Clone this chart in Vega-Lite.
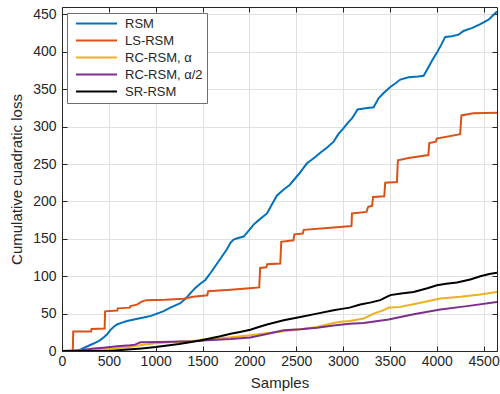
{
  "$schema": "https://vega.github.io/schema/vega-lite/v6.json",
  "width": 435,
  "height": 344,
  "autosize": {"type": "none"},
  "padding": {"left": 62, "top": 7, "right": 3, "bottom": 43},
  "background": "white",
  "config": {
    "view": {"stroke": null},
    "font": "Liberation Sans",
    "axis": {
      "domainColor": "#262626",
      "domainWidth": 1,
      "tickColor": "#262626",
      "tickWidth": 1,
      "tickSize": -5,
      "labelColor": "#262626",
      "labelFont": "Liberation Sans",
      "labelFontSize": 14,
      "titleColor": "#262626",
      "titleFont": "Liberation Sans",
      "titleFontSize": 15,
      "titleFontWeight": "normal",
      "gridColor": "#e0e0e0",
      "gridWidth": 1
    },
    "legend": {
      "labelFont": "Liberation Sans",
      "labelFontSize": 13,
      "labelColor": "#262626"
    }
  },
  "data": {
    "values": [
      {"method": "RSM", "samples": 0, "loss": 0},
      {"method": "RSM", "samples": 150, "loss": 0},
      {"method": "RSM", "samples": 200, "loss": 2},
      {"method": "RSM", "samples": 250, "loss": 5},
      {"method": "RSM", "samples": 337, "loss": 10},
      {"method": "RSM", "samples": 400, "loss": 14},
      {"method": "RSM", "samples": 444, "loss": 18},
      {"method": "RSM", "samples": 480, "loss": 22},
      {"method": "RSM", "samples": 515, "loss": 28},
      {"method": "RSM", "samples": 550, "loss": 32},
      {"method": "RSM", "samples": 587, "loss": 35.5},
      {"method": "RSM", "samples": 640, "loss": 38},
      {"method": "RSM", "samples": 694, "loss": 40},
      {"method": "RSM", "samples": 780, "loss": 42.5},
      {"method": "RSM", "samples": 871, "loss": 44.7},
      {"method": "RSM", "samples": 950, "loss": 47},
      {"method": "RSM", "samples": 1014, "loss": 50},
      {"method": "RSM", "samples": 1080, "loss": 53},
      {"method": "RSM", "samples": 1156, "loss": 58},
      {"method": "RSM", "samples": 1210, "loss": 61},
      {"method": "RSM", "samples": 1263, "loss": 64},
      {"method": "RSM", "samples": 1320, "loss": 70},
      {"method": "RSM", "samples": 1369, "loss": 77},
      {"method": "RSM", "samples": 1420, "loss": 84},
      {"method": "RSM", "samples": 1476, "loss": 90},
      {"method": "RSM", "samples": 1530, "loss": 95},
      {"method": "RSM", "samples": 1583, "loss": 104},
      {"method": "RSM", "samples": 1650, "loss": 116},
      {"method": "RSM", "samples": 1700, "loss": 125},
      {"method": "RSM", "samples": 1760, "loss": 136},
      {"method": "RSM", "samples": 1800, "loss": 145},
      {"method": "RSM", "samples": 1832, "loss": 149},
      {"method": "RSM", "samples": 1880, "loss": 151},
      {"method": "RSM", "samples": 1939, "loss": 153},
      {"method": "RSM", "samples": 2000, "loss": 162},
      {"method": "RSM", "samples": 2045, "loss": 169},
      {"method": "RSM", "samples": 2100, "loss": 175},
      {"method": "RSM", "samples": 2188, "loss": 184},
      {"method": "RSM", "samples": 2240, "loss": 196},
      {"method": "RSM", "samples": 2295, "loss": 208},
      {"method": "RSM", "samples": 2366, "loss": 216},
      {"method": "RSM", "samples": 2430, "loss": 222},
      {"method": "RSM", "samples": 2490, "loss": 231},
      {"method": "RSM", "samples": 2536, "loss": 238},
      {"method": "RSM", "samples": 2615, "loss": 251},
      {"method": "RSM", "samples": 2690, "loss": 258},
      {"method": "RSM", "samples": 2757, "loss": 265},
      {"method": "RSM", "samples": 2830, "loss": 272},
      {"method": "RSM", "samples": 2899, "loss": 280},
      {"method": "RSM", "samples": 2950, "loss": 290},
      {"method": "RSM", "samples": 3006, "loss": 298},
      {"method": "RSM", "samples": 3050, "loss": 305},
      {"method": "RSM", "samples": 3095, "loss": 311},
      {"method": "RSM", "samples": 3155, "loss": 323},
      {"method": "RSM", "samples": 3240, "loss": 324.5},
      {"method": "RSM", "samples": 3326, "loss": 326},
      {"method": "RSM", "samples": 3379, "loss": 338},
      {"method": "RSM", "samples": 3433, "loss": 345},
      {"method": "RSM", "samples": 3504, "loss": 353},
      {"method": "RSM", "samples": 3560, "loss": 358},
      {"method": "RSM", "samples": 3611, "loss": 363},
      {"method": "RSM", "samples": 3700, "loss": 366},
      {"method": "RSM", "samples": 3800, "loss": 367},
      {"method": "RSM", "samples": 3860, "loss": 368},
      {"method": "RSM", "samples": 3896, "loss": 376},
      {"method": "RSM", "samples": 3949, "loss": 388},
      {"method": "RSM", "samples": 4002, "loss": 399},
      {"method": "RSM", "samples": 4050, "loss": 410},
      {"method": "RSM", "samples": 4091, "loss": 420},
      {"method": "RSM", "samples": 4160, "loss": 421},
      {"method": "RSM", "samples": 4233, "loss": 423},
      {"method": "RSM", "samples": 4286, "loss": 428},
      {"method": "RSM", "samples": 4380, "loss": 432},
      {"method": "RSM", "samples": 4465, "loss": 437},
      {"method": "RSM", "samples": 4553, "loss": 443},
      {"method": "RSM", "samples": 4643, "loss": 454},

      {"method": "LS-RSM", "samples": 0, "loss": 0},
      {"method": "LS-RSM", "samples": 115, "loss": 0},
      {"method": "LS-RSM", "samples": 120, "loss": 26},
      {"method": "LS-RSM", "samples": 310, "loss": 26},
      {"method": "LS-RSM", "samples": 315, "loss": 29.5},
      {"method": "LS-RSM", "samples": 455, "loss": 30},
      {"method": "LS-RSM", "samples": 460, "loss": 53},
      {"method": "LS-RSM", "samples": 590, "loss": 54},
      {"method": "LS-RSM", "samples": 595, "loss": 57},
      {"method": "LS-RSM", "samples": 725, "loss": 58},
      {"method": "LS-RSM", "samples": 730, "loss": 60},
      {"method": "LS-RSM", "samples": 800, "loss": 62},
      {"method": "LS-RSM", "samples": 850, "loss": 66},
      {"method": "LS-RSM", "samples": 900, "loss": 68},
      {"method": "LS-RSM", "samples": 1100, "loss": 68.5},
      {"method": "LS-RSM", "samples": 1300, "loss": 70},
      {"method": "LS-RSM", "samples": 1400, "loss": 72.5},
      {"method": "LS-RSM", "samples": 1550, "loss": 74.5},
      {"method": "LS-RSM", "samples": 1560, "loss": 80},
      {"method": "LS-RSM", "samples": 1800, "loss": 82},
      {"method": "LS-RSM", "samples": 2000, "loss": 84},
      {"method": "LS-RSM", "samples": 2105, "loss": 85},
      {"method": "LS-RSM", "samples": 2115, "loss": 111},
      {"method": "LS-RSM", "samples": 2180, "loss": 112},
      {"method": "LS-RSM", "samples": 2190, "loss": 116},
      {"method": "LS-RSM", "samples": 2330, "loss": 117},
      {"method": "LS-RSM", "samples": 2340, "loss": 146},
      {"method": "LS-RSM", "samples": 2470, "loss": 148},
      {"method": "LS-RSM", "samples": 2480, "loss": 156},
      {"method": "LS-RSM", "samples": 2570, "loss": 157},
      {"method": "LS-RSM", "samples": 2580, "loss": 162},
      {"method": "LS-RSM", "samples": 2800, "loss": 164},
      {"method": "LS-RSM", "samples": 3090, "loss": 167},
      {"method": "LS-RSM", "samples": 3095, "loss": 184},
      {"method": "LS-RSM", "samples": 3250, "loss": 186},
      {"method": "LS-RSM", "samples": 3260, "loss": 190},
      {"method": "LS-RSM", "samples": 3270, "loss": 193},
      {"method": "LS-RSM", "samples": 3310, "loss": 194},
      {"method": "LS-RSM", "samples": 3320, "loss": 206},
      {"method": "LS-RSM", "samples": 3440, "loss": 207},
      {"method": "LS-RSM", "samples": 3450, "loss": 225},
      {"method": "LS-RSM", "samples": 3575, "loss": 226},
      {"method": "LS-RSM", "samples": 3585, "loss": 255},
      {"method": "LS-RSM", "samples": 3700, "loss": 258},
      {"method": "LS-RSM", "samples": 3910, "loss": 262},
      {"method": "LS-RSM", "samples": 3920, "loss": 278},
      {"method": "LS-RSM", "samples": 3990, "loss": 280},
      {"method": "LS-RSM", "samples": 4000, "loss": 284},
      {"method": "LS-RSM", "samples": 4250, "loss": 290},
      {"method": "LS-RSM", "samples": 4263, "loss": 315},
      {"method": "LS-RSM", "samples": 4390, "loss": 318},
      {"method": "LS-RSM", "samples": 4643, "loss": 318.5},

      {"method": "RC-RSM, α", "samples": 0, "loss": 0},
      {"method": "RC-RSM, α", "samples": 300, "loss": 1},
      {"method": "RC-RSM, α", "samples": 500, "loss": 3},
      {"method": "RC-RSM, α", "samples": 700, "loss": 5},
      {"method": "RC-RSM, α", "samples": 850, "loss": 8},
      {"method": "RC-RSM, α", "samples": 1000, "loss": 10.5},
      {"method": "RC-RSM, α", "samples": 1200, "loss": 12},
      {"method": "RC-RSM, α", "samples": 1400, "loss": 13.5},
      {"method": "RC-RSM, α", "samples": 1500, "loss": 15.5},
      {"method": "RC-RSM, α", "samples": 1700, "loss": 17},
      {"method": "RC-RSM, α", "samples": 2010, "loss": 21},
      {"method": "RC-RSM, α", "samples": 2200, "loss": 24},
      {"method": "RC-RSM, α", "samples": 2366, "loss": 26.4},
      {"method": "RC-RSM, α", "samples": 2544, "loss": 29},
      {"method": "RC-RSM, α", "samples": 2722, "loss": 32},
      {"method": "RC-RSM, α", "samples": 2830, "loss": 35.5},
      {"method": "RC-RSM, α", "samples": 2899, "loss": 37.5},
      {"method": "RC-RSM, α", "samples": 2970, "loss": 39},
      {"method": "RC-RSM, α", "samples": 3070, "loss": 40.2},
      {"method": "RC-RSM, α", "samples": 3220, "loss": 43.4},
      {"method": "RC-RSM, α", "samples": 3326, "loss": 50},
      {"method": "RC-RSM, α", "samples": 3420, "loss": 54},
      {"method": "RC-RSM, α", "samples": 3486, "loss": 57.7},
      {"method": "RC-RSM, α", "samples": 3611, "loss": 59},
      {"method": "RC-RSM, α", "samples": 3789, "loss": 63.5},
      {"method": "RC-RSM, α", "samples": 3900, "loss": 66.5},
      {"method": "RC-RSM, α", "samples": 4038, "loss": 70.2},
      {"method": "RC-RSM, α", "samples": 4251, "loss": 72.4},
      {"method": "RC-RSM, α", "samples": 4465, "loss": 75.6},
      {"method": "RC-RSM, α", "samples": 4643, "loss": 79},

      {"method": "RC-RSM, α/2", "samples": 0, "loss": 0},
      {"method": "RC-RSM, α/2", "samples": 200, "loss": 1},
      {"method": "RC-RSM, α/2", "samples": 337, "loss": 3.2},
      {"method": "RC-RSM, α/2", "samples": 444, "loss": 4.5},
      {"method": "RC-RSM, α/2", "samples": 587, "loss": 6.3},
      {"method": "RC-RSM, α/2", "samples": 729, "loss": 7.6},
      {"method": "RC-RSM, α/2", "samples": 780, "loss": 8.5},
      {"method": "RC-RSM, α/2", "samples": 836, "loss": 11.7},
      {"method": "RC-RSM, α/2", "samples": 1049, "loss": 12},
      {"method": "RC-RSM, α/2", "samples": 1404, "loss": 13},
      {"method": "RC-RSM, α/2", "samples": 1548, "loss": 14.5},
      {"method": "RC-RSM, α/2", "samples": 1800, "loss": 16},
      {"method": "RC-RSM, α/2", "samples": 2010, "loss": 18},
      {"method": "RC-RSM, α/2", "samples": 2200, "loss": 23},
      {"method": "RC-RSM, α/2", "samples": 2366, "loss": 27.7},
      {"method": "RC-RSM, α/2", "samples": 2544, "loss": 29},
      {"method": "RC-RSM, α/2", "samples": 2722, "loss": 31},
      {"method": "RC-RSM, α/2", "samples": 2899, "loss": 34},
      {"method": "RC-RSM, α/2", "samples": 3070, "loss": 36.5},
      {"method": "RC-RSM, α/2", "samples": 3220, "loss": 37.5},
      {"method": "RC-RSM, α/2", "samples": 3486, "loss": 42},
      {"method": "RC-RSM, α/2", "samples": 3753, "loss": 49.2},
      {"method": "RC-RSM, α/2", "samples": 4038, "loss": 55.5},
      {"method": "RC-RSM, α/2", "samples": 4323, "loss": 60},
      {"method": "RC-RSM, α/2", "samples": 4643, "loss": 65.7},

      {"method": "SR-RSM", "samples": 0, "loss": 0},
      {"method": "SR-RSM", "samples": 500, "loss": 0},
      {"method": "SR-RSM", "samples": 600, "loss": 1},
      {"method": "SR-RSM", "samples": 700, "loss": 2},
      {"method": "SR-RSM", "samples": 850, "loss": 3.5},
      {"method": "SR-RSM", "samples": 1000, "loss": 5.4},
      {"method": "SR-RSM", "samples": 1250, "loss": 9.5},
      {"method": "SR-RSM", "samples": 1476, "loss": 14},
      {"method": "SR-RSM", "samples": 1550, "loss": 16},
      {"method": "SR-RSM", "samples": 1690, "loss": 19.7},
      {"method": "SR-RSM", "samples": 1800, "loss": 23},
      {"method": "SR-RSM", "samples": 1900, "loss": 25.5},
      {"method": "SR-RSM", "samples": 2010, "loss": 28.5},
      {"method": "SR-RSM", "samples": 2100, "loss": 32},
      {"method": "SR-RSM", "samples": 2188, "loss": 35.4},
      {"method": "SR-RSM", "samples": 2366, "loss": 41},
      {"method": "SR-RSM", "samples": 2544, "loss": 45.6},
      {"method": "SR-RSM", "samples": 2722, "loss": 50},
      {"method": "SR-RSM", "samples": 2899, "loss": 54.6},
      {"method": "SR-RSM", "samples": 2970, "loss": 56},
      {"method": "SR-RSM", "samples": 3070, "loss": 58},
      {"method": "SR-RSM", "samples": 3184, "loss": 62.2},
      {"method": "SR-RSM", "samples": 3300, "loss": 65},
      {"method": "SR-RSM", "samples": 3397, "loss": 68},
      {"method": "SR-RSM", "samples": 3460, "loss": 72},
      {"method": "SR-RSM", "samples": 3504, "loss": 74.7},
      {"method": "SR-RSM", "samples": 3620, "loss": 77},
      {"method": "SR-RSM", "samples": 3753, "loss": 79},
      {"method": "SR-RSM", "samples": 3900, "loss": 84},
      {"method": "SR-RSM", "samples": 4002, "loss": 88},
      {"method": "SR-RSM", "samples": 4100, "loss": 90},
      {"method": "SR-RSM", "samples": 4216, "loss": 91.7},
      {"method": "SR-RSM", "samples": 4358, "loss": 95.7},
      {"method": "SR-RSM", "samples": 4465, "loss": 100},
      {"method": "SR-RSM", "samples": 4560, "loss": 103},
      {"method": "SR-RSM", "samples": 4643, "loss": 104.5}
    ]
  },
  "layer": [
    {
      "mark": {"type": "line", "strokeWidth": 2, "clip": true},
      "encoding": {
        "x": {
          "field": "samples",
          "type": "quantitative",
          "scale": {"domain": [0, 4643], "nice": false, "zero": false},
          "axis": {
            "orient": "bottom",
            "title": "Samples",
            "values": [0, 500, 1000, 1500, 2000, 2500, 3000, 3500, 4000, 4500],
            "format": "d",
            "labelPadding": 8,
            "titlePadding": 7,
            "grid": true,
            "labelFlush": false
          }
        },
        "y": {
          "field": "loss",
          "type": "quantitative",
          "scale": {"domain": [0, 460], "nice": false},
          "axis": {
            "orient": "left",
            "title": "Cumulative cuadratic loss",
            "values": [0, 50, 100, 150, 200, 250, 300, 350, 400, 450],
            "labelPadding": 11,
            "titlePadding": 8,
            "grid": true,
            "labelFlush": false
          }
        },
        "color": {
          "field": "method",
          "type": "nominal",
          "scale": {
            "domain": ["RSM", "LS-RSM", "RC-RSM, α", "RC-RSM, α/2", "SR-RSM"],
            "range": ["#0072BD", "#D95319", "#EDB120", "#7E2F8E", "#000000"]
          },
          "legend": {
            "title": null,
            "orient": "none",
            "legendX": 5,
            "legendY": 6,
            "symbolType": "stroke",
            "symbolSize": 1681,
            "symbolStrokeWidth": 2,
            "symbolOffset": 4,
            "clipHeight": 13,
            "labelOffset": 7,
            "rowPadding": 3,
            "padding": 4,
            "strokeColor": "#6e6e6e",
            "fillColor": "white"
          }
        }
      }
    },
    {
      "mark": {"type": "line", "opacity": 0},
      "encoding": {
        "x": {
          "field": "samples",
          "type": "quantitative",
          "axis": {
            "orient": "top",
            "title": null,
            "labels": false,
            "grid": false,
            "values": [0, 500, 1000, 1500, 2000, 2500, 3000, 3500, 4000, 4500]
          }
        },
        "y": {
          "field": "loss",
          "type": "quantitative",
          "axis": {
            "orient": "right",
            "title": null,
            "labels": false,
            "grid": false,
            "values": [0, 50, 100, 150, 200, 250, 300, 350, 400, 450]
          }
        },
        "detail": {"field": "method", "type": "nominal"}
      }
    }
  ],
  "resolve": {"axis": {"x": "independent", "y": "independent"}}
}
